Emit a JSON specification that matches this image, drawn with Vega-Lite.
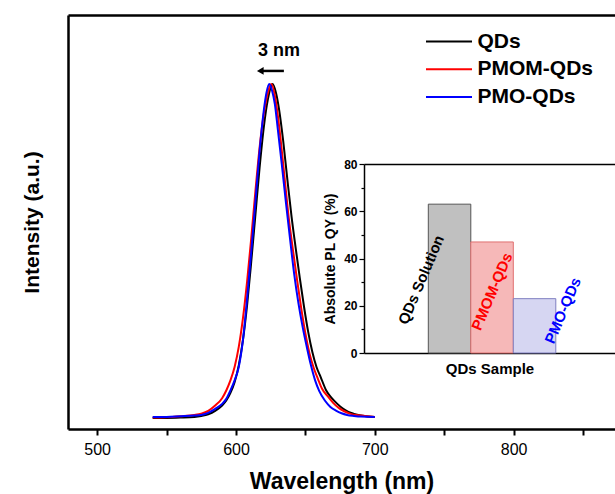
{
  "$schema": "https://vega.github.io/schema/vega-lite/v6.json",
  "width": 547,
  "height": 414,
  "autosize": "none",
  "padding": {"left": 68, "top": 15, "right": 0, "bottom": 65},
  "config": {
    "view": {"stroke": null},
    "font": "Liberation Sans",
    "axis": {"domainColor": "#000", "tickColor": "#000", "labelColor": "#000", "titleColor": "#000", "grid": false},
    "legend": {"labelColor": "#000"}
  },
  "datasets": {
    "qy": [{"sample": "QDs Solution", "qy": 63, "ly": 31}, {"sample": "PMOM-QDs", "qy": 47, "ly": 26}, {"sample": "PMO-QDs", "qy": 23, "ly": 18}]
  },
  "layer": [
    {
      "data": {"values": [
        {"s":"QDs","wl":540,"v":0.003},{"s":"QDs","wl":550,"v":0.003},{"s":"QDs","wl":560,"v":0.004},{"s":"QDs","wl":570,"v":0.006},{"s":"QDs","wl":575,"v":0.009},{"s":"QDs","wl":580,"v":0.014},{"s":"QDs","wl":585,"v":0.024},{"s":"QDs","wl":590,"v":0.040},{"s":"QDs","wl":593,"v":0.055},{"s":"QDs","wl":596,"v":0.078},{"s":"QDs","wl":599,"v":0.11},{"s":"QDs","wl":602,"v":0.16},{"s":"QDs","wl":605,"v":0.235},{"s":"QDs","wl":608,"v":0.34},{"s":"QDs","wl":611,"v":0.47},{"s":"QDs","wl":614,"v":0.61},{"s":"QDs","wl":617,"v":0.75},{"s":"QDs","wl":620,"v":0.87},{"s":"QDs","wl":623,"v":0.955},{"s":"QDs","wl":626.5,"v":1.0},{"s":"QDs","wl":629,"v":0.97},{"s":"QDs","wl":631,"v":0.925},{"s":"QDs","wl":634,"v":0.83},{"s":"QDs","wl":637,"v":0.715},{"s":"QDs","wl":640,"v":0.605},{"s":"QDs","wl":643,"v":0.51},{"s":"QDs","wl":646,"v":0.42},{"s":"QDs","wl":649,"v":0.335},{"s":"QDs","wl":652,"v":0.26},{"s":"QDs","wl":655,"v":0.2},{"s":"QDs","wl":658,"v":0.155},{"s":"QDs","wl":661,"v":0.125},{"s":"QDs","wl":665,"v":0.085},{"s":"QDs","wl":669,"v":0.062},{"s":"QDs","wl":673,"v":0.045},{"s":"QDs","wl":677,"v":0.031},{"s":"QDs","wl":681,"v":0.021},{"s":"QDs","wl":685,"v":0.015},{"s":"QDs","wl":690,"v":0.010},{"s":"QDs","wl":695,"v":0.007},{"s":"QDs","wl":700,"v":0.006},
        {"s":"PMOM-QDs","wl":540,"v":0.004},{"s":"PMOM-QDs","wl":550,"v":0.005},{"s":"PMOM-QDs","wl":560,"v":0.008},{"s":"PMOM-QDs","wl":570,"v":0.012},{"s":"PMOM-QDs","wl":575,"v":0.016},{"s":"PMOM-QDs","wl":580,"v":0.024},{"s":"PMOM-QDs","wl":585,"v":0.040},{"s":"PMOM-QDs","wl":590,"v":0.062},{"s":"PMOM-QDs","wl":593,"v":0.085},{"s":"PMOM-QDs","wl":596,"v":0.115},{"s":"PMOM-QDs","wl":599,"v":0.155},{"s":"PMOM-QDs","wl":602,"v":0.215},{"s":"PMOM-QDs","wl":605,"v":0.30},{"s":"PMOM-QDs","wl":608,"v":0.41},{"s":"PMOM-QDs","wl":611,"v":0.54},{"s":"PMOM-QDs","wl":614,"v":0.68},{"s":"PMOM-QDs","wl":617,"v":0.81},{"s":"PMOM-QDs","wl":620,"v":0.91},{"s":"PMOM-QDs","wl":623,"v":0.975},{"s":"PMOM-QDs","wl":625.5,"v":1.0},{"s":"PMOM-QDs","wl":628,"v":0.965},{"s":"PMOM-QDs","wl":630,"v":0.91},{"s":"PMOM-QDs","wl":632,"v":0.84},{"s":"PMOM-QDs","wl":635,"v":0.72},{"s":"PMOM-QDs","wl":638,"v":0.60},{"s":"PMOM-QDs","wl":641,"v":0.505},{"s":"PMOM-QDs","wl":644,"v":0.415},{"s":"PMOM-QDs","wl":647,"v":0.33},{"s":"PMOM-QDs","wl":650,"v":0.255},{"s":"PMOM-QDs","wl":653,"v":0.195},{"s":"PMOM-QDs","wl":656,"v":0.152},{"s":"PMOM-QDs","wl":659,"v":0.12},{"s":"PMOM-QDs","wl":662,"v":0.09},{"s":"PMOM-QDs","wl":666,"v":0.068},{"s":"PMOM-QDs","wl":670,"v":0.048},{"s":"PMOM-QDs","wl":674,"v":0.033},{"s":"PMOM-QDs","wl":678,"v":0.023},{"s":"PMOM-QDs","wl":682,"v":0.016},{"s":"PMOM-QDs","wl":690,"v":0.010},{"s":"PMOM-QDs","wl":700,"v":0.006},
        {"s":"PMO-QDs","wl":540,"v":0.006},{"s":"PMO-QDs","wl":550,"v":0.006},{"s":"PMO-QDs","wl":560,"v":0.008},{"s":"PMO-QDs","wl":570,"v":0.010},{"s":"PMO-QDs","wl":575,"v":0.012},{"s":"PMO-QDs","wl":580,"v":0.018},{"s":"PMO-QDs","wl":585,"v":0.030},{"s":"PMO-QDs","wl":590,"v":0.045},{"s":"PMO-QDs","wl":593,"v":0.060},{"s":"PMO-QDs","wl":596,"v":0.085},{"s":"PMO-QDs","wl":599,"v":0.115},{"s":"PMO-QDs","wl":602,"v":0.155},{"s":"PMO-QDs","wl":605,"v":0.235},{"s":"PMO-QDs","wl":608,"v":0.36},{"s":"PMO-QDs","wl":611,"v":0.50},{"s":"PMO-QDs","wl":614,"v":0.65},{"s":"PMO-QDs","wl":617,"v":0.80},{"s":"PMO-QDs","wl":620,"v":0.92},{"s":"PMO-QDs","wl":622,"v":0.975},{"s":"PMO-QDs","wl":624,"v":1.0},{"s":"PMO-QDs","wl":626,"v":0.98},{"s":"PMO-QDs","wl":628,"v":0.94},{"s":"PMO-QDs","wl":630,"v":0.87},{"s":"PMO-QDs","wl":633,"v":0.76},{"s":"PMO-QDs","wl":636,"v":0.645},{"s":"PMO-QDs","wl":639,"v":0.535},{"s":"PMO-QDs","wl":642,"v":0.43},{"s":"PMO-QDs","wl":645,"v":0.345},{"s":"PMO-QDs","wl":648,"v":0.275},{"s":"PMO-QDs","wl":651,"v":0.215},{"s":"PMO-QDs","wl":654,"v":0.16},{"s":"PMO-QDs","wl":657,"v":0.115},{"s":"PMO-QDs","wl":660,"v":0.083},{"s":"PMO-QDs","wl":664,"v":0.055},{"s":"PMO-QDs","wl":668,"v":0.036},{"s":"PMO-QDs","wl":672,"v":0.025},{"s":"PMO-QDs","wl":676,"v":0.017},{"s":"PMO-QDs","wl":680,"v":0.012},{"s":"PMO-QDs","wl":685,"v":0.009},{"s":"PMO-QDs","wl":690,"v":0.007},{"s":"PMO-QDs","wl":700,"v":0.006}
      ]},
      "mark": {"type": "line", "strokeWidth": 2, "interpolate": "monotone"},
      "encoding": {
        "x": {"field": "wl", "type": "quantitative",
          "scale": {"domain": [479, 873], "nice": false, "zero": false},
          "axis": {"orient": "bottom", "values": [500,550,600,650,700,750,800,850], "format": "d",
            "labelExpr": "datum.value % 100 === 0 ? datum.label : ''",
            "tickSize": 6, "tickWidth": 2, "domainWidth": 2.5, "labelFontSize": 16, "labelPadding": 6, "labelFlush": false,
            "title": "Wavelength (nm)", "titleFontSize": 23, "titleFontWeight": "bold", "titlePadding": 13}},
        "y": {"field": "v", "type": "quantitative",
          "scale": {"domain": [-0.03, 1.206], "nice": false, "zero": false},
          "axis": {"orient": "left", "labels": false, "ticks": false, "domainWidth": 2.5,
            "title": "Intensity (a.u.)", "titleFontSize": 21, "titleFontWeight": "bold", "titlePadding": 26}},
        "color": {"field": "s", "type": "nominal", "sort": ["QDs","PMOM-QDs","PMO-QDs"],
          "scale": {"domain": ["QDs","PMOM-QDs","PMO-QDs"], "range": ["#000000","#ff0000","#0000ff"]},
          "legend": {"orient": "none", "legendX": 368.5, "legendY": 14, "title": null, "symbolType": "M-2,0H2",
            "symbolSize": 529, "symbolStrokeWidth": 2, "labelFontSize": 21, "labelFontWeight": "bold",
            "labelOffset": 16, "rowPadding": 4.7, "padding": 0}}
      }
    },
    {
      "data": {"values": [{"t": "3 nm", "wl": 631, "v": 1.098}]},
      "mark": {"type": "text", "fontSize": 18, "fontWeight": "bold", "color": "#000"},
      "encoding": {
        "x": {"field": "wl", "type": "quantitative", "scale": {"domain": [479, 873], "nice": false, "zero": false},
          "axis": {"orient": "top", "labels": false, "ticks": false, "domainWidth": 2.5, "title": null}},
        "y": {"field": "v", "type": "quantitative", "scale": {"domain": [-0.03, 1.206], "nice": false, "zero": false}, "axis": null},
        "text": {"field": "t"}
      }
    },
    {
      "data": {"values": [{"a": 634.5, "b": 619, "v": 1.039}]},
      "mark": {"type": "rule", "strokeWidth": 2.5, "color": "#000"},
      "encoding": {
        "x": {"field": "a", "type": "quantitative", "scale": {"domain": [479, 873], "nice": false, "zero": false}, "axis": null},
        "x2": {"field": "b"},
        "y": {"field": "v", "type": "quantitative", "scale": {"domain": [-0.03, 1.206], "nice": false, "zero": false}, "axis": null}
      }
    },
    {
      "data": {"values": [{"wl": 617.5, "v": 1.039}]},
      "mark": {"type": "point", "shape": "triangle-left", "filled": true, "size": 60, "color": "#000", "opacity": 1},
      "encoding": {
        "x": {"field": "wl", "type": "quantitative", "scale": {"domain": [479, 873], "nice": false, "zero": false}, "axis": null},
        "y": {"field": "v", "type": "quantitative", "scale": {"domain": [-0.03, 1.206], "nice": false, "zero": false}, "axis": null}
      }
    },
    {
      "data": {"name": "qy"},
      "mark": {"type": "bar", "opacity": 0},
      "encoding": {
        "x": {"field": "sample", "type": "nominal", "sort": ["QDs Solution","PMOM-QDs","PMO-QDs"],
          "scale": {"domain": ["QDs Solution","PMOM-QDs","PMO-QDs"], "range": [296, 547]},
          "axis": {"orient": "bottom", "offset": -76, "labels": false, "ticks": false, "domainWidth": 1.5,
            "title": "QDs Sample", "titleFontSize": 15, "titleFontWeight": "bold", "titlePadding": 8}},
        "y": {"field": "qy", "type": "quantitative",
          "scale": {"domain": [0, 80], "range": [338, 149], "nice": false},
          "axis": {"orient": "left", "offset": -296, "values": [0,10,20,30,40,50,60,70,80],
            "labelExpr": "datum.value % 20 === 0 ? datum.label : ''",
            "tickSize": {"condition": {"test": "datum.value % 20 === 0", "value": 5}, "value": 3},
            "tickWidth": 1.2, "domainWidth": 1.5, "labelFontSize": 12, "labelFontWeight": "bold", "labelPadding": 2,
            "title": "Absolute PL QY (%)", "titleFontSize": 14, "titleFontWeight": "bold", "titlePadding": 6}}
      }
    },
    {
      "data": {"name": "qy"},
      "mark": {"type": "bar", "opacity": 0},
      "encoding": {
        "x": {"field": "sample", "type": "nominal", "sort": ["QDs Solution","PMOM-QDs","PMO-QDs"],
          "scale": {"domain": ["QDs Solution","PMOM-QDs","PMO-QDs"], "range": [296, 547]},
          "axis": {"orient": "top", "offset": -149, "labels": false, "ticks": false, "domainWidth": 1.5, "title": null}},
        "y": {"field": "qy", "type": "quantitative", "scale": {"domain": [0, 80], "range": [338, 149], "nice": false}, "axis": null}
      }
    },
    {
      "data": {"name": "qy"},
      "mark": {"type": "bar", "strokeWidth": 1},
      "encoding": {
        "x": {"field": "sample", "type": "nominal", "sort": ["QDs Solution","PMOM-QDs","PMO-QDs"],
          "scale": {"domain": ["QDs Solution","PMOM-QDs","PMO-QDs"], "range": [317.8, 530.3], "paddingInner": 0, "paddingOuter": 1},
          "axis": null},
        "y": {"field": "qy", "type": "quantitative", "scale": {"domain": [0, 80], "range": [338, 149], "nice": false}, "axis": null},
        "fill": {"field": "sample", "type": "nominal",
          "scale": {"domain": ["QDs Solution","PMOM-QDs","PMO-QDs"], "range": ["#c0c0c0", "#f6b8b8", "#d6d6f2"]}, "legend": null},
        "stroke": {"field": "sample", "type": "nominal",
          "scale": {"domain": ["QDs Solution","PMOM-QDs","PMO-QDs"], "range": ["#555555", "#e07070", "#7f7fc0"]}, "legend": null}
      }
    },
    {
      "data": {"name": "qy"},
      "mark": {"type": "text", "angle": -67, "fontSize": 15, "fontWeight": "bold"},
      "encoding": {
        "x": {"field": "sample", "type": "nominal", "sort": ["QDs Solution","PMOM-QDs","PMO-QDs"],
          "scale": {"domain": ["QDs Solution","PMOM-QDs","PMO-QDs"], "range": [317.8, 530.3], "paddingInner": 0, "paddingOuter": 1},
          "axis": null},
        "y": {"field": "ly", "type": "quantitative", "scale": {"domain": [0, 80], "range": [338, 149], "nice": false}, "axis": null},
        "text": {"field": "sample"},
        "color": {"field": "sample", "type": "nominal",
          "scale": {"domain": ["QDs Solution","PMOM-QDs","PMO-QDs"], "range": ["#000000", "#ff0000", "#0000ff"]}, "legend": null}
      }
    }
  ],
  "resolve": {
    "scale": {"x": "independent", "y": "independent", "color": "independent"},
    "axis": {"x": "independent", "y": "independent"},
    "legend": {"color": "independent"}
  }
}
